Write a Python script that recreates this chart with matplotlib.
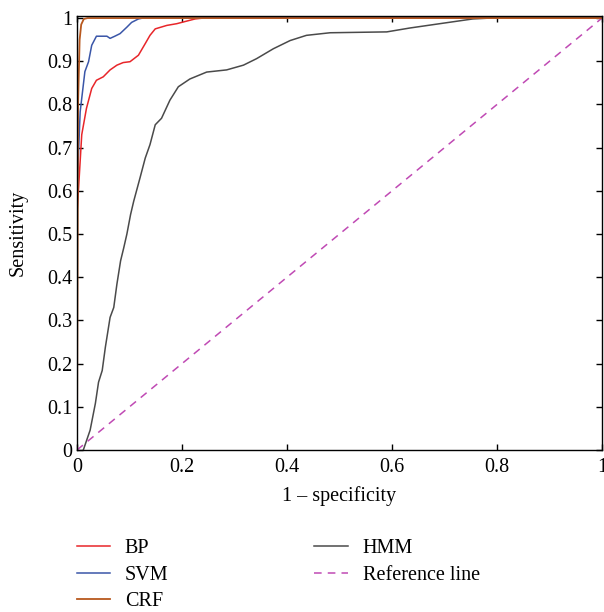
import matplotlib
matplotlib.use("Agg")
import matplotlib.pyplot as plt

plt.rcParams["font.family"] = ["Liberation Serif", "DejaVu Serif"]

# ROC curves (x = 1 - specificity, y = sensitivity)
bp_x = [0, 0, 0.003, 0.009, 0.018, 0.028, 0.037, 0.05, 0.063, 0.076, 0.088, 0.101,
        0.117, 0.13, 0.139, 0.149, 0.171, 0.19, 0.209, 0.225, 0.24, 1.0]
bp_y = [0, 0.55, 0.607, 0.73, 0.791, 0.837, 0.856, 0.864, 0.88, 0.891, 0.897, 0.899,
        0.914, 0.941, 0.96, 0.975, 0.983, 0.987, 0.993, 0.998, 1.0, 1.0]

svm_x = [0, 0, 0.006, 0.015, 0.022, 0.028, 0.037, 0.057, 0.063, 0.072, 0.082, 0.095,
         0.104, 0.117, 0.125, 1.0]
svm_y = [0, 0.6, 0.783, 0.876, 0.899, 0.937, 0.958, 0.958, 0.953, 0.958, 0.964, 0.979,
         0.99, 0.998, 1.0, 1.0]

crf_x = [0, 0.002, 0.005, 0.008, 0.013, 0.02, 1.0]
crf_y = [0, 0.8, 0.95, 0.985, 0.998, 1.0, 1.0]

hmm_x = [0.012, 0.025, 0.035, 0.041, 0.048, 0.054, 0.063, 0.07, 0.076, 0.083, 0.089,
         0.095, 0.102, 0.108, 0.12, 0.13, 0.139, 0.149, 0.161, 0.177, 0.193, 0.215,
         0.247, 0.285, 0.317, 0.342, 0.374, 0.406, 0.437, 0.482, 0.59, 0.634, 0.691,
         0.754, 0.787, 1.0]
hmm_y = [0, 0.046, 0.108, 0.157, 0.184, 0.238, 0.307, 0.33, 0.384, 0.438, 0.468,
         0.5, 0.545, 0.576, 0.63, 0.676, 0.707, 0.753, 0.768, 0.81, 0.841, 0.859,
         0.875, 0.88, 0.891, 0.906, 0.929, 0.948, 0.96, 0.966, 0.968, 0.977, 0.987,
         0.998, 1.0, 1.0]

ref_x = [0, 1]
ref_y = [0, 1]

xticks = [0, 0.2, 0.4, 0.6, 0.8, 1]
xtick_labels = ["0", "0.2", "0.4", "0.6", "0.8", "1"]
yticks = [0, 0.1, 0.2, 0.3, 0.4, 0.5, 0.6, 0.7, 0.8, 0.9, 1]
ytick_labels = ["0", "0.1", "0.2", "0.3", "0.4", "0.5", "0.6", "0.7", "0.8", "0.9", "1"]

FS = 14.5

fig = plt.figure(figsize=(6.04, 6.12), dpi=100)
ax = fig.add_axes([0.1275, 0.2647, 0.8692, 0.7093])

ax.plot(bp_x, bp_y, color="#e8262a", lw=1.1, label="BP")
ax.plot(svm_x, svm_y, color="#3a56a8", lw=1.1, label="SVM")
ax.plot(hmm_x, hmm_y, color="#4a4a4a", lw=1.1, label="HMM")
ax.plot(ref_x, ref_y, color="#c04ab4", lw=1.1, ls=(0, (5, 4)), label="Reference line")
ax.plot(crf_x, crf_y, color="#b8581e", lw=1.3, label="CRF")

ax.set_xlim(0, 1)
ax.set_ylim(0, 1.005)
ax.set_xticks(xticks)
ax.set_xticklabels(xtick_labels)
ax.set_yticks(yticks)
ax.set_yticklabels(ytick_labels)
ax.tick_params(direction="in", length=4, width=1, labelsize=FS,
               top=True, right=True)
ax.tick_params(axis="x", pad=6)
for s in ax.spines.values():
    s.set_linewidth(1)

ax.set_xlabel("1 \u2013 specificity", fontsize=FS, labelpad=6)
ax.set_ylabel("Sensitivity", fontsize=FS)
ax.yaxis.set_label_coords(-0.095, 0.5)

handles, labels = ax.get_legend_handles_labels()
order = ["BP", "SVM", "CRF", "HMM", "Reference line"]
hmap = dict(zip(labels, handles))
fig.legend([hmap[k] for k in order], order, ncol=2, frameon=False, fontsize=FS,
           loc="upper left", bbox_to_anchor=(0.1267, 0.119), bbox_transform=fig.transFigure,
           handlelength=1.65, handletextpad=0.75, columnspacing=7.25, labelspacing=0.37,
           borderaxespad=0, borderpad=0)

fig.savefig("out.png", dpi=100)
